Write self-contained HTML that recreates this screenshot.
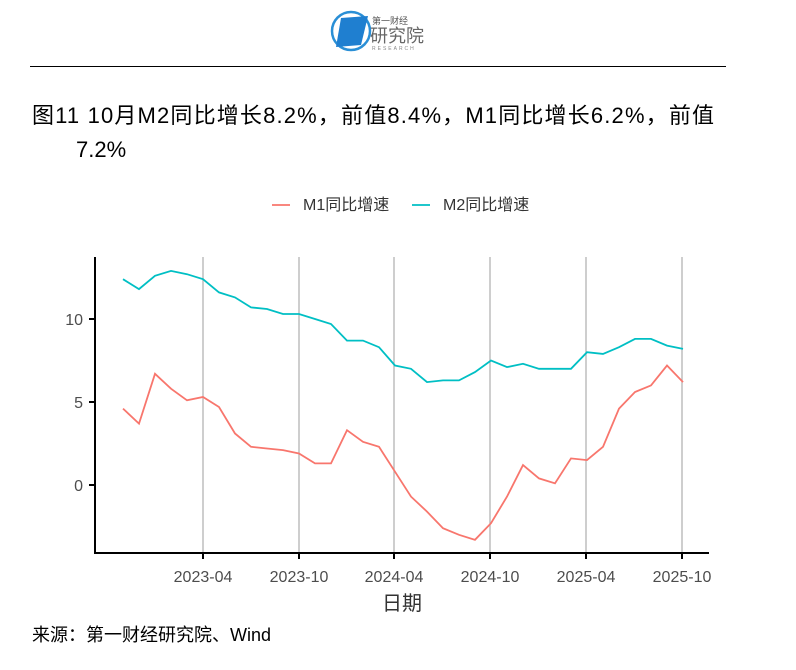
<!DOCTYPE html>
<html><head><meta charset="utf-8"><style>
body{margin:0;width:796px;height:665px;background:#fff;font-family:"Liberation Sans","Noto Sans CJK SC",sans-serif;overflow:hidden}
</style></head><body>
<svg width="796" height="665" xmlns="http://www.w3.org/2000/svg" font-family="Liberation Sans, Noto Sans CJK SC, sans-serif">
<circle cx="351" cy="31" r="19" fill="none" stroke="#2a8fd6" stroke-width="2.5"/>
<path d="M341 18 L368 16 L361 45 L336 47 Z" fill="#1f7fd0"/>
<text x="372" y="24" font-size="9" fill="#555">第一财经</text>
<text x="370" y="42" font-size="18" fill="#666">研究院</text>
<text x="372" y="50" font-size="5" fill="#888" letter-spacing="2">RESEARCH</text>
<line x1="30" y1="66.5" x2="726" y2="66.5" stroke="#000" stroke-width="1"/>
<text x="32" y="123" font-size="22" fill="#000" textLength="682" lengthAdjust="spacing">图11 10月M2同比增长8.2%，前值8.4%，M1同比增长6.2%，前值</text>
<text x="76" y="157" font-size="22" fill="#000">7.2%</text>
<line x1="272" y1="205" x2="290" y2="205" stroke="#f8766d" stroke-width="1.8"/>
<text x="303" y="210" font-size="16" fill="#333">M1同比增速</text>
<line x1="412" y1="205" x2="430" y2="205" stroke="#00bfc4" stroke-width="1.8"/>
<text x="443" y="210" font-size="16" fill="#333">M2同比增速</text>
<g stroke="#b3b3b3" stroke-width="1.3">
<line x1="203" y1="257" x2="203" y2="553"/><line x1="299" y1="257" x2="299" y2="553"/><line x1="394" y1="257" x2="394" y2="553"/><line x1="490" y1="257" x2="490" y2="553"/><line x1="586" y1="257" x2="586" y2="553"/><line x1="682" y1="257" x2="682" y2="553"/>
</g>
<g stroke="#000" stroke-width="2">
<line x1="95" y1="257" x2="95" y2="554"/><line x1="94" y1="553" x2="709" y2="553"/>
<line x1="89" y1="319" x2="95" y2="319"/><line x1="89" y1="402" x2="95" y2="402"/><line x1="89" y1="485" x2="95" y2="485"/>
<line x1="203" y1="553" x2="203" y2="559"/><line x1="299" y1="553" x2="299" y2="559"/><line x1="394" y1="553" x2="394" y2="559"/><line x1="490" y1="553" x2="490" y2="559"/><line x1="586" y1="553" x2="586" y2="559"/><line x1="682" y1="553" x2="682" y2="559"/>
</g>
<g font-size="16" fill="#4d4d4d" text-anchor="end">
<text x="83" y="325">10</text><text x="83" y="408">5</text><text x="83" y="491">0</text>
</g>
<g font-size="16" fill="#4d4d4d" text-anchor="middle">
<text x="203" y="582">2023-04</text><text x="299" y="582">2023-10</text><text x="394" y="582">2024-04</text><text x="490" y="582">2024-10</text><text x="586" y="582">2025-04</text><text x="682" y="582">2025-10</text>
</g>
<text x="402" y="610" font-size="20" fill="#333" text-anchor="middle">日期</text>
<polyline id="m2" fill="none" stroke="#00bfc4" stroke-width="1.8"/>
<polyline id="m1" fill="none" stroke="#f8766d" stroke-width="1.8"/>
<text x="32" y="641" font-size="18" fill="#000">来源：第一财经研究院、Wind</text>
</svg>
<script>
var m1=[4.6,3.7,6.7,5.8,5.1,5.3,4.7,3.1,2.3,2.2,2.1,1.9,1.3,1.3,3.3,2.6,2.3,0.8,-0.7,-1.6,-2.6,-3.0,-3.3,-2.3,-0.7,1.2,0.4,0.1,1.6,1.5,2.3,4.6,5.6,6.0,7.2,6.2];
var m2=[12.4,11.8,12.6,12.9,12.7,12.4,11.6,11.3,10.7,10.6,10.3,10.3,10.0,9.7,8.7,8.7,8.3,7.2,7.0,6.2,6.3,6.3,6.8,7.5,7.1,7.3,7.0,7.0,7.0,8.0,7.9,8.3,8.8,8.8,8.4,8.2];
function p(a){return a.map(function(v,i){return (123+16*i)+","+(485-16.6*v).toFixed(1)}).join(" ")}
document.getElementById("m1").setAttribute("points",p(m1));
document.getElementById("m2").setAttribute("points",p(m2));
</script>
</body></html>
